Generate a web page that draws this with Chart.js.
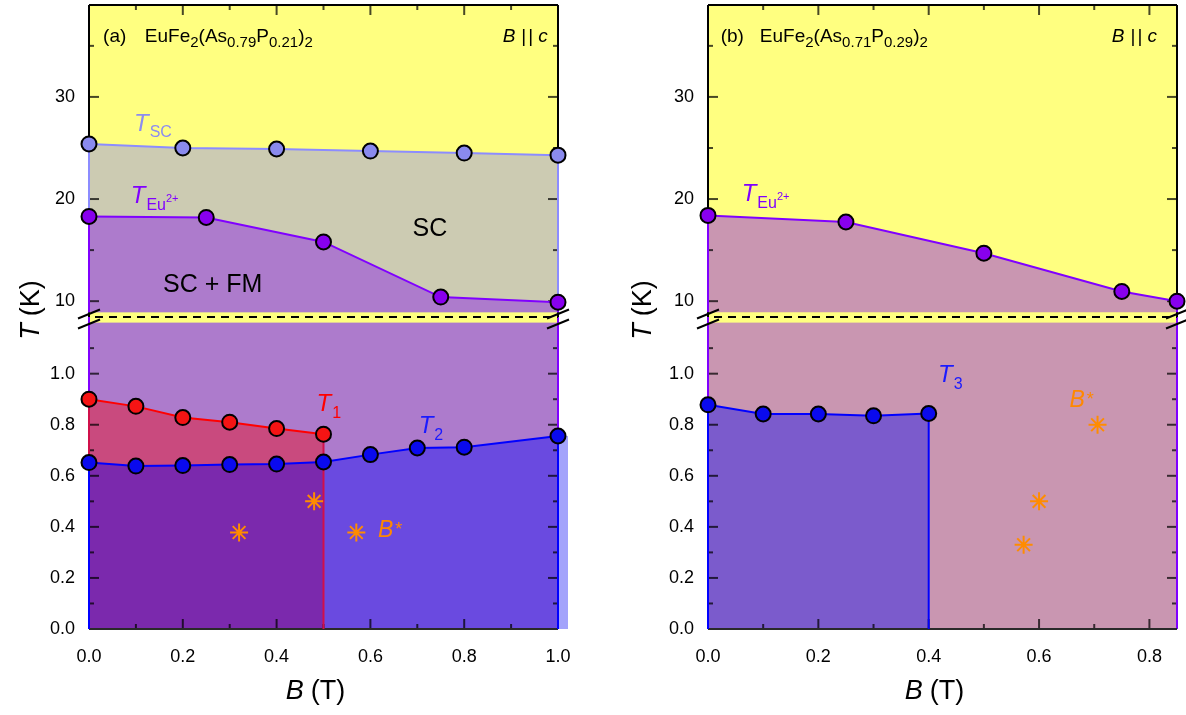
<!DOCTYPE html>
<html>
<head>
<meta charset="utf-8">
<script src="https://cdn.jsdelivr.net/npm/chart.js@4.4.0/dist/chart.umd.min.js"></script>
<style>
html, body { margin: 0; padding: 0; background: #fff; }
#wrap { position: relative; width: 1186px; height: 715px; }
canvas { position: absolute; top: 0; }
</style>
</head>
<body>
<div id="wrap">
  <canvas id="chartA" width="593" height="715" style="left:0"></canvas>
  <canvas id="chartB" width="593" height="715" style="left:593px"></canvas>
</div>
<script>
// panel (a): EuFe2(As0.79P0.21)2
const bTscA = [0, 0.2, 0.4, 0.6, 0.8, 1.0];
const tTscA = [25.4, 25.0, 24.9, 24.7, 24.5, 24.3];
const bEuA = [0, 0.25, 0.5, 0.75, 1.0];
const tEuA = [18.3, 18.2, 15.8, 10.4, 9.9];
const bT1A = [0, 0.1, 0.2, 0.3, 0.4, 0.5];
const tT1A = [0.90, 0.872, 0.828, 0.81, 0.785, 0.763];
const bT2A = [0, 0.1, 0.2, 0.3, 0.4, 0.5, 0.6, 0.7, 0.8, 1.0];
const tT2A = [0.652, 0.638, 0.640, 0.644, 0.646, 0.654, 0.683, 0.709, 0.712, 0.756];
const bStarA = [0.32, 0.48, 0.57];
const tStarA = [0.378, 0.50, 0.378];

// panel (b): EuFe2(As0.71P0.29)2
const bEuB = [0, 0.25, 0.5, 0.75, 0.85];
const tEuB = [18.4, 17.75, 14.7, 10.95, 10.0];
const bT3B = [0, 0.1, 0.2, 0.3, 0.4];
const tT3B = [0.878, 0.842, 0.842, 0.835, 0.844];
const bStarB = [0.572, 0.6, 0.706];
const tStarB = [0.33, 0.50, 0.80];

// tick labels
const upperTicks = [10, 20, 30];
const lowerTicks = [0, 0.2, 0.4, 0.6, 0.8, 1.0];
const xTicksA = [0, 0.2, 0.4, 0.6, 0.8, 1.0];
const xTicksB = [0, 0.2, 0.4, 0.6, 0.8];

const FONT = "'Liberation Sans', Arial, Helvetica, sans-serif";
const YELLOW = '#ffff80';
const UPPER_CUT = 8.92;   // upper fills stop here, leaving the yellow break strip
const LOWER_CUT = 1.2;

const pts = (xs, ys) => xs.map((x, i) => ({x: x, y: ys[i]}));
const P = (t, s, i, dy, gap) => ({t: t, s: s, i: i, dy: dy || 0, gap: gap || 0});
const fontOf = p => (p.i ? 'italic ' : '') + p.s + 'px ' + FONT;

function drawParts(ctx, x, y, parts, align) {
    let w = 0;
    for (const p of parts) { ctx.font = fontOf(p); w += ctx.measureText(p.t).width + p.gap; }
    let cx = align === 'right' ? x - w : (align === 'center' ? x - w / 2 : x);
    for (const p of parts) {
        ctx.font = fontOf(p);
        ctx.fillText(p.t, cx, y + p.dy);
        cx += ctx.measureText(p.t).width + p.gap;
    }
}

const phasePlugin = {
    id: 'phase',
    beforeDraw(chart, args, o) {
        const {ctx, chartArea: a} = chart;
        const yb = chart.scales.yBot.getPixelForValue(LOWER_CUT);
        ctx.save();
        ctx.fillStyle = YELLOW;
        ctx.fillRect(a.left, a.top, a.width, a.height);
        ctx.fillStyle = o.lowBg;
        ctx.fillRect(a.left, yb, a.width, a.bottom - yb);
        // fill of the last curve spilling past the right edge
        if (o.overhang) {
            const last = chart.getDatasetMeta(o.overhang.ds).data.slice(-1)[0];
            ctx.fillStyle = o.overhang.color;
            ctx.fillRect(a.right, last.y, o.overhang.width, a.bottom - last.y);
        }
        ctx.restore();
    },
    beforeDatasetsDraw(chart, args, o) {
        const {ctx, chartArea: a, scales} = chart;
        const xs = scales.x, yT = scales.yTop, yB = scales.yBot;
        const seg = (x1, y1, x2, y2) => { ctx.beginPath(); ctx.moveTo(x1, y1); ctx.lineTo(x2, y2); ctx.stroke(); };
        ctx.save();
        ctx.lineWidth = 2;
        ctx.strokeStyle = 'rgba(0,0,0,0.72)';
        // inward ticks, all four sides
        for (let i = 1; i / 10 < xs.max - 1e-6; i++) {
            const px = xs.getPixelForValue(i / 10), L = i % 2 === 0 ? 10 : 5;
            seg(px, a.bottom, px, a.bottom - L);
            seg(px, a.top, px, a.top + L);
        }
        for (let v = 10; v < yT.max; v += 5) {
            const py = yT.getPixelForValue(v), L = v % 10 === 0 ? 10 : 5;
            seg(a.left, py, a.left + L, py);
            seg(a.right, py, a.right - L, py);
        }
        for (let i = 1; i <= 11; i++) {
            const py = yB.getPixelForValue(i / 10), L = i % 2 === 0 ? 10 : 5;
            seg(a.left, py, a.left + L, py);
            seg(a.right, py, a.right - L, py);
        }
        // frame
        ctx.strokeStyle = '#000';
        seg(a.left, a.top, a.right, a.top);
        seg(a.left, yT.top, a.left, yT.bottom);
        seg(a.right, yT.top, a.right, yT.bottom);
        ctx.strokeStyle = '#8000ff';
        seg(a.left, yB.top, a.left, yB.bottom);
        seg(a.right, yB.top, a.right, yB.bottom);
        ctx.strokeStyle = '#2a2a2a';
        seg(a.left, a.bottom, a.right, a.bottom);
        // coloured region edges, later datasets first
        const sets = chart.data.datasets;
        for (let i = sets.length - 1; i >= 0; i--) {
            const ds = sets[i];
            if (ds.edgeTo === undefined) continue;
            const meta = chart.getDatasetMeta(i);
            const yEnd = scales[ds.yAxisID].getPixelForValue(ds.edgeTo);
            ctx.strokeStyle = ds.edgeColor;
            [meta.data[0], meta.data[meta.data.length - 1]].forEach(pt => seg(pt.x, pt.y, pt.x, yEnd));
        }
        ctx.restore();
    },
    afterDraw(chart, args, o) {
        const {ctx, chartArea: a, scales} = chart;
        const seg = (x1, y1, x2, y2) => { ctx.beginPath(); ctx.moveTo(x1, y1); ctx.lineTo(x2, y2); ctx.stroke(); };
        const yBreak = scales.yTop.bottom;
        ctx.save();
        // axis break
        ctx.strokeStyle = '#000';
        ctx.lineWidth = 2;
        ctx.setLineDash([8, 6]);
        seg(a.left + 6, yBreak, a.right, yBreak);
        ctx.setLineDash([]);
        [a.left, a.right].forEach(ex => {
            [yBreak - 3, yBreak + 7].forEach(cy => seg(ex - 11, cy + 4.5, ex + 11, cy - 4.5));
        });
        // annotations
        ctx.textBaseline = 'alphabetic';
        ctx.textAlign = 'left';
        for (const lb of o.labels) {
            ctx.fillStyle = lb.color || '#000';
            drawParts(ctx, scales.x.getPixelForValue(lb.x), scales[lb.axis].getPixelForValue(lb.y), lb.parts, lb.align);
        }
        // axis titles
        ctx.fillStyle = '#000';
        drawParts(ctx, (a.left + a.right) / 2 - 8, 699, [P('B', 27, 1, 0, 7), P('(T)', 27)], 'center');
        ctx.translate(o.yTitleX, 310);
        ctx.rotate(-Math.PI / 2);
        drawParts(ctx, 0, 0, [P('T', 27, 1, 0, 7), P('(K)', 27)], 'center');
        ctx.restore();
    }
};

function noEdgePadding(s) {
    s.paddingTop = 0;
    s.paddingBottom = 0;
    s.paddingLeft = 0;
    s.paddingRight = 0;
}

function makePanel(id, p) {
    const tickFont = {family: FONT, size: 18};
    const yBase = {
        type: 'linear', position: 'left', stack: 'T', stackWeight: 1,
        grid: {display: false, drawTicks: false}, border: {display: false},
        afterFit: s => { s.width = p.yWidth; noEdgePadding(s); }
    };
    return new Chart(document.getElementById(id), {
        type: 'line',
        data: {datasets: p.datasets},
        options: {
            responsive: false,
            animation: false,
            events: [],
            layout: {autoPadding: false, padding: {top: 5, right: p.padRight, left: 0, bottom: 0}},
            elements: {line: {tension: 0, borderWidth: 2}, point: {radius: 7.5, borderWidth: 2}},
            plugins: {
                legend: {display: false},
                tooltip: {enabled: false},
                filler: {drawTime: 'beforeDatasetsDraw'},
                phase: p.phase
            },
            scales: {
                x: {
                    type: 'linear', min: 0, max: p.xMax,
                    grid: {display: false, drawTicks: false}, border: {display: false},
                    afterBuildTicks: s => { s.ticks = p.xTicks.map(v => ({value: v})); },
                    afterFit: s => { s.height = 86; noEdgePadding(s); },
                    ticks: {padding: 17, color: '#000', font: tickFont, maxRotation: 0, autoSkip: false,
                            callback: v => v.toFixed(1)}
                },
                yTop: Object.assign({}, yBase, {
                    weight: 2, min: 8.45, max: 39,
                    afterBuildTicks: s => { s.ticks = upperTicks.map(v => ({value: v})); },
                    ticks: {padding: 14, color: '#000', font: tickFont, callback: v => String(v)}
                }),
                yBot: Object.assign({}, yBase, {
                    weight: 1, min: 0, max: 1.222,
                    afterBuildTicks: s => { s.ticks = lowerTicks.map(v => ({value: v})); },
                    ticks: {padding: 14, color: '#000', font: tickFont, callback: v => v.toFixed(1)}
                })
            }
        },
        plugins: [phasePlugin]
    });
}

const curve = (xs, ys, axis, line, marker, fill, fillColor, edgeTo) => ({
    data: pts(xs, ys), yAxisID: axis, clip: false, borderColor: line,
    pointBackgroundColor: marker, pointBorderColor: '#000', pointBorderWidth: 2,
    fill: fill, backgroundColor: fillColor, edgeTo: edgeTo, edgeColor: line
});

const starSet = (xs, ys) => ({
    data: pts(xs, ys), yAxisID: 'yBot', showLine: false, clip: false,
    pointStyle: 'star', pointRadius: 9, pointBorderWidth: 2,
    pointBorderColor: '#ff8c00', pointBackgroundColor: '#ff8c00'
});

const t2A = curve(bT2A, tT2A, 'yBot', '#0000ff', '#0a0aee', 'origin', '#6a4ae0', 0);
t2A.segment = {backgroundColor: c => c.p0.parsed.x < 0.5 ? '#7b29ad' : '#6a4ae0'};
const t1A = curve(bT1A, tT1A, 'yBot', '#ff0000', '#f51414', 2, '#c94a7e', 0);
t1A.edgeColor = '#d0104a';

makePanel('chartA', {
    xMax: 1.0, xTicks: xTicksA, yWidth: 89, padRight: 593 - 558,
    datasets: [
        curve(bEuA, tEuA, 'yTop', '#8000ff', '#8800ee', {value: UPPER_CUT}, '#ad7bcc', UPPER_CUT),
        curve(bTscA, tTscA, 'yTop', '#8c8cff', '#8a8aee', {value: UPPER_CUT}, '#cccbb2', UPPER_CUT),
        t2A,
        t1A,
        starSet(bStarA, tStarA)
    ],
    phase: {
        lowBg: '#ad7bcc', yTitleX: 39,
        overhang: {ds: 2, width: 10, color: '#a3a3fb'},
        labels: [
            {axis: 'yTop', x: 0.030, y: 35.4, parts: [P('(a)', 19)]},
            {axis: 'yTop', x: 0.119, y: 35.4, parts: [P('EuFe', 19), P('2', 15, 0, 5), P('(As', 19), P('0.79', 15, 0, 5),
                P('P', 19), P('0.21', 15, 0, 5), P(')', 19), P('2', 15, 0, 5)]},
            {axis: 'yTop', x: 0.978, y: 35.4, align: 'right', parts: [P('B', 19, 1, 0, 6), P('|', 19, 0, 0, 2), P('|', 19, 0, 0, 5), P('c', 19, 1)]},
            {axis: 'yTop', x: 0.096, y: 26.7, color: '#8c8cf0', parts: [P('T', 24, 1, 0, 1), P('SC', 16, 0, 6)]},
            {axis: 'yTop', x: 0.089, y: 19.66, color: '#8000ff', parts: [P('T', 24, 1, 0, 1), P('Eu', 16, 0, 7), P('2+', 11, 0, -1)]},
            {axis: 'yTop', x: 0.69, y: 16.4, parts: [P('SC', 25)]},
            {axis: 'yTop', x: 0.158, y: 10.85, parts: [P('SC + FM', 25)]},
            {axis: 'yBot', x: 0.485, y: 0.855, color: '#ff0000', parts: [P('T', 24, 1, 0, 1), P('1', 16, 0, 7)]},
            {axis: 'yBot', x: 0.703, y: 0.766, color: '#1a1aff', parts: [P('T', 24, 1, 0, 1), P('2', 16, 0, 7)]},
            {axis: 'yBot', x: 0.616, y: 0.36, color: '#ff8800', parts: [P('B', 23, 1, 0, 2), P('*', 18, 0, -2)]}
        ]
    }
});

makePanel('chartB', {
    xMax: 0.85, xTicks: xTicksB, yWidth: 115, padRight: 593 - 584,
    datasets: [
        curve(bEuB, tEuB, 'yTop', '#8000ff', '#8800ee', {value: UPPER_CUT}, '#c996b1', UPPER_CUT),
        curve(bT3B, tT3B, 'yBot', '#0000ff', '#0a0aee', 'origin', '#7b5bcc', 0),
        starSet(bStarB, tStarB)
    ],
    phase: {
        lowBg: '#c996b1', yTitleX: 58,
        labels: [
            {axis: 'yTop', x: 0.023, y: 35.4, parts: [P('(b)', 19)]},
            {axis: 'yTop', x: 0.094, y: 35.4, parts: [P('EuFe', 19), P('2', 15, 0, 5), P('(As', 19), P('0.71', 15, 0, 5),
                P('P', 19), P('0.29', 15, 0, 5), P(')', 19), P('2', 15, 0, 5)]},
            {axis: 'yTop', x: 0.8136, y: 35.4, align: 'right', parts: [P('B', 19, 1, 0, 6), P('|', 19, 0, 0, 2), P('|', 19, 0, 0, 5), P('c', 19, 1)]},
            {axis: 'yTop', x: 0.061, y: 19.85, color: '#8000ff', parts: [P('T', 24, 1, 0, 1), P('Eu', 16, 0, 7), P('2+', 11, 0, -1)]},
            {axis: 'yBot', x: 0.417, y: 0.966, color: '#1a1aff', parts: [P('T', 24, 1, 0, 1), P('3', 16, 0, 7)]},
            {axis: 'yBot', x: 0.655, y: 0.871, color: '#ff8800', parts: [P('B', 23, 1, 0, 2), P('*', 18, 0, -2)]}
        ]
    }
});
</script>
</body>
</html>
